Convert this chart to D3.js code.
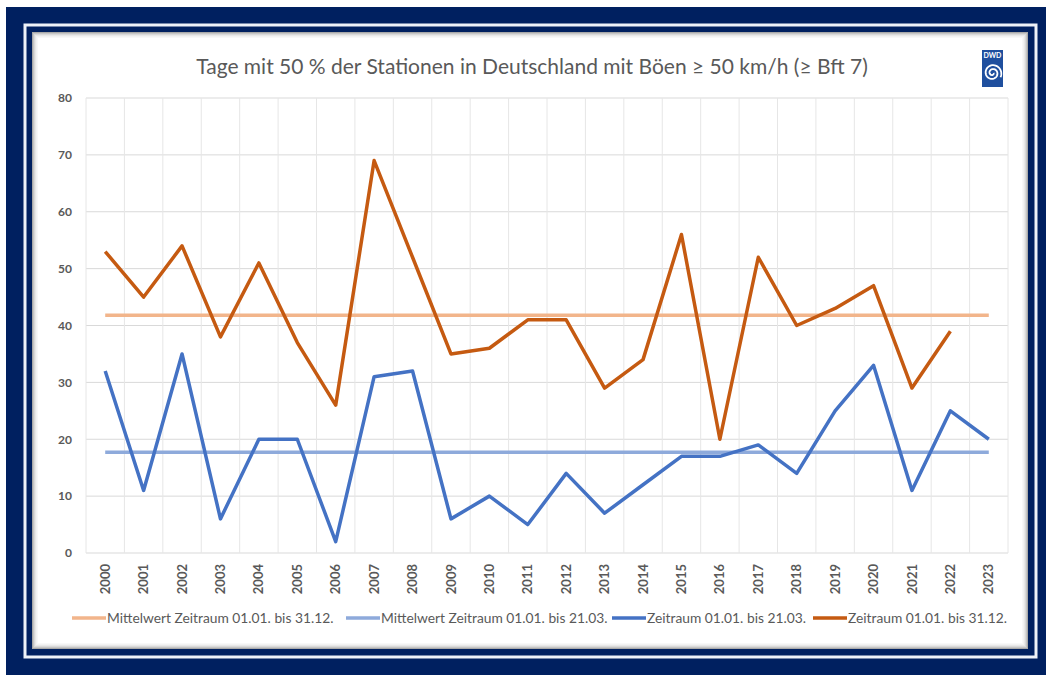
<!DOCTYPE html>
<html>
<head>
<meta charset="utf-8">
<script src="https://cdn.jsdelivr.net/npm/d3@7"></script>
<style>
    html, body { margin: 0; padding: 0; background: #fff; }
    svg text { font-family: Lato, "Open Sans", sans-serif; }
</style>
</head>
<body>
<div id="graph"></div>
<script>
// Jahre auf der x-Achse
const years = ["2000", "2001", "2002", "2003", "2004", "2005", "2006", "2007", "2008", "2009", "2010", "2011",
    "2012", "2013", "2014", "2015", "2016", "2017", "2018", "2019", "2020", "2021", "2022", "2023"];

// Zeitraum 01.01. bis 31.12. (2023 noch ohne Wert)
const fullYear = [53, 45, 54, 38, 51, 37, 26, 69, 52, 35, 36, 41, 41, 29, 34, 56, 20, 52, 40, 43, 47, 29, 39, null];

// Zeitraum 01.01. bis 21.03.
const spring = [32, 11, 35, 6, 20, 20, 2, 31, 32, 6, 10, 5, 14, 7, 12, 17, 17, 19, 14, 25, 33, 11, 25, 20];

// Mittelwerte
const meanFullYear = 41.8;
const meanSpring = 17.7;

const yTicks = [0, 10, 20, 30, 40, 50, 60, 70, 80];

const legendLabels = [
    "Mittelwert Zeitraum 01.01. bis 31.12.",
    "Mittelwert Zeitraum 01.01. bis 21.03.",
    "Zeitraum 01.01. bis 21.03.",
    "Zeitraum 01.01. bis 31.12."
];

const W = 1046, H = 675;
const COLORS = {
    navy: "#002060",
    grid: "#d9d9d9",
    text: "#595959",
    meanFull: "#f2b58b",
    meanSpring: "#8eaadb",
    spring: "#4472c4",
    full: "#c55a11"
};

const svg = d3.select("#graph")
    .append("svg")
    .attr("width", W)
    .attr("height", H);

// --- frame ---
svg.append("rect")
    .attr("x", 6).attr("y", 7)
    .attr("width", W - 6).attr("height", H - 7)
    .attr("fill", COLORS.navy);

svg.append("rect")
    .attr("x", 25).attr("y", 25)
    .attr("width", 1011).attr("height", 632)
    .attr("fill", "none")
    .attr("stroke", "#eef2f8")
    .attr("stroke-width", 3);

const panel = {x: 32, y: 32, w: 996, h: 617};
svg.append("rect")
    .attr("x", panel.x).attr("y", panel.y)
    .attr("width", panel.w).attr("height", panel.h)
    .attr("fill", "#fff");

// soft inner shadow
[0.45, 0.3, 0.2, 0.12, 0.07, 0.035].forEach((op, i) => {
    svg.append("rect")
        .attr("x", panel.x + i + 0.5).attr("y", panel.y + i + 0.5)
        .attr("width", panel.w - 2 * i - 1).attr("height", panel.h - 2 * i - 1)
        .attr("fill", "none")
        .attr("stroke", "#404040")
        .attr("stroke-opacity", op);
});

// --- scales ---
const xScale = d3.scaleBand()
    .domain(years)
    .range([86, 1008])
    .paddingInner(0)
    .paddingOuter(0);

const yScale = d3.scaleLinear()
    .domain([0, 80])
    .range([553, 98]);

const cx = d => xScale(d) + xScale.bandwidth() / 2;

// gridlines
const grid = svg.append("g");
grid.selectAll("line.h")
    .data(yTicks)
    .join("line")
    .attr("x1", xScale.range()[0]).attr("x2", xScale.range()[1])
    .attr("y1", d => yScale(d)).attr("y2", d => yScale(d))
    .attr("stroke", COLORS.grid)
    .attr("stroke-width", 1);

grid.selectAll("line.v")
    .data(years.concat(["end"]))
    .join("line")
    .attr("x1", d => d === "end" ? xScale.range()[1] : xScale(d))
    .attr("x2", d => d === "end" ? xScale.range()[1] : xScale(d))
    .attr("y1", yScale(80)).attr("y2", yScale(0))
    .attr("stroke", "#e6e6e6")
    .attr("stroke-width", 1);

// y axis
const yAxis = svg.append("g")
    .attr("transform", "translate(86,0)")
    .call(d3.axisLeft(yScale).tickValues(yTicks).tickSize(0).tickPadding(14));
yAxis.select(".domain").remove();
yAxis.selectAll("text")
    .attr("fill", COLORS.text)
    .style("font-size", "12px")
    .style("font-weight", "bold");

// x axis, rotated labels
const xAxis = svg.append("g")
    .attr("transform", `translate(0, ${yScale(0)})`)
    .call(d3.axisBottom(xScale).tickSize(0));
xAxis.select(".domain").remove();
xAxis.selectAll("text")
    .attr("fill", COLORS.text)
    .style("font-size", "13px")
    .style("font-weight", "bold")
    .attr("text-anchor", "end")
    .attr("transform", "rotate(-90)")
    .attr("x", -11)
    .attr("y", 0)
    .attr("dy", "0.35em");

// --- lines ---
const line = d3.line()
    .defined(d => d.v !== null)
    .x(d => cx(d.year))
    .y(d => yScale(d.v));

const toPoints = arr => years.map((year, i) => ({year, v: arr[i]}));

const series = [
    {data: toPoints(years.map(() => meanFullYear)), color: COLORS.meanFull, width: 3.5},
    {data: toPoints(years.map(() => meanSpring)), color: COLORS.meanSpring, width: 3.5},
    {data: toPoints(spring), color: COLORS.spring, width: 3.5},
    {data: toPoints(fullYear), color: COLORS.full, width: 3.5}
];

series.forEach(s => {
    svg.append("path")
        .datum(s.data)
        .attr("d", line)
        .attr("fill", "none")
        .attr("stroke", s.color)
        .attr("stroke-width", s.width)
        .attr("stroke-linejoin", "round");
});

// --- title ---
svg.append("text")
    .attr("x", 532)
    .attr("y", 74)
    .attr("text-anchor", "middle")
    .attr("fill", COLORS.text)
    .style("font-size", "21px")
    .text("Tage mit 50 % der Stationen in Deutschland mit Böen ≥ 50 km/h (≥ Bft 7)");

// --- DWD logo ---
const logo = svg.append("g").attr("transform", "translate(982,50)");
logo.append("rect")
    .attr("width", 21).attr("height", 37)
    .attr("fill", "#1f4f9e");
logo.append("text")
    .attr("x", 10.5).attr("y", 8)
    .attr("text-anchor", "middle")
    .attr("fill", "#fff")
    .style("font-size", "7px")
    .style("font-weight", "bold")
    .text("DWD");
// spiral
const spiralPts = d3.range(0, 4.2 * Math.PI, 0.15).map(t => {
    const r = 1 + t * 0.62;
    return [10.5 + r * Math.cos(t), 23 + r * Math.sin(t)];
});
logo.append("path")
    .attr("d", d3.line()(spiralPts))
    .attr("fill", "none")
    .attr("stroke", "#fff")
    .attr("stroke-width", 1.8);

// --- legend ---
const legendItems = [
    {label: legendLabels[0], color: COLORS.meanFull, x: 72},
    {label: legendLabels[1], color: COLORS.meanSpring, x: 346},
    {label: legendLabels[2], color: COLORS.spring, x: 612},
    {label: legendLabels[3], color: COLORS.full, x: 813}
];
const legend = svg.append("g").attr("transform", "translate(0,618)");
legendItems.forEach(item => {
    legend.append("line")
        .attr("x1", item.x).attr("x2", item.x + 34)
        .attr("y1", 0).attr("y2", 0)
        .attr("stroke", item.color)
        .attr("stroke-width", 3.5);
    legend.append("text")
        .attr("x", item.x + 35)
        .attr("y", 0)
        .attr("dy", "0.35em")
        .attr("fill", COLORS.text)
        .style("font-size", "13.8px")
        .text(item.label);
});
</script>
</body>
</html>
